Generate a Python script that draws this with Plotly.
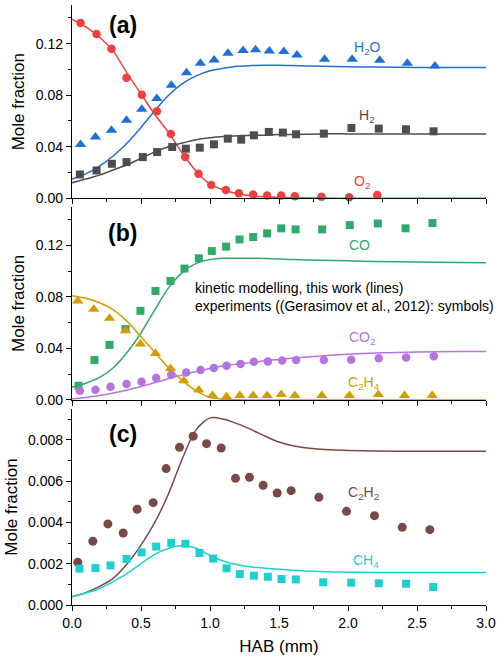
import plotly.graph_objects as go
from plotly.subplots import make_subplots

# ---------------- data ----------------
# model grid (HAB, mm)
hab_model = [0.0, 0.1, 0.2, 0.3, 0.4, 0.5, 0.6, 0.7, 0.8, 0.9, 1.0, 1.1, 1.2, 1.3,
             1.4, 1.5, 1.6, 1.8, 2.0, 2.2, 2.5, 2.8, 3.0]

# panel (a)
o2_model = [0.139, 0.133, 0.125, 0.114, 0.097, 0.081, 0.065, 0.051, 0.035, 0.021, 0.011,
            0.0065, 0.0035, 0.002, 0.0012, 0.0007, 0.0004, 0.0002, 0.0001, 0.0001, 0.0, 0.0, 0.0]
h2o_model = [0.015, 0.019, 0.025, 0.033, 0.043, 0.055, 0.068, 0.080, 0.089, 0.095, 0.099,
             0.101, 0.1025, 0.103, 0.1033, 0.1033, 0.103, 0.1025, 0.102, 0.1018, 0.1015, 0.1015, 0.1015]
h2_model = [0.012, 0.015, 0.018, 0.022, 0.026, 0.031, 0.036, 0.040, 0.043, 0.0455, 0.047,
            0.048, 0.0485, 0.049, 0.049, 0.0495, 0.0495, 0.050, 0.050, 0.050, 0.050, 0.050, 0.050]

o2_x = [0.062, 0.178, 0.286, 0.395, 0.506, 0.615, 0.716, 0.820, 0.917, 1.009, 1.115, 1.209,
        1.313, 1.414, 1.516, 1.615, 1.808, 2.009, 2.212]
o2_y = [0.136, 0.1275, 0.116, 0.0936, 0.0804, 0.0676, 0.050, 0.032, 0.019, 0.0104, 0.0065,
        0.0039, 0.0029, 0.0021, 0.0021, 0.0016, 0.0013, 0.0008, 0.0026]
h2o_x = [0.062, 0.17, 0.286, 0.395, 0.506, 0.615, 0.72, 0.83, 0.93, 1.03, 1.13, 1.24, 1.33,
         1.43, 1.535, 1.63, 1.83, 2.03, 2.23, 2.43, 2.63]
h2o_y = [0.0417, 0.0476, 0.0528, 0.0606, 0.0692, 0.0775, 0.0877, 0.0975, 0.1048, 0.1074,
         0.1126, 0.1147, 0.1152, 0.1144, 0.1139, 0.1113, 0.108, 0.108, 0.1072, 0.1048, 0.1027]
h2_x = [0.057, 0.178, 0.289, 0.395, 0.513, 0.617, 0.726, 0.825, 0.926, 1.028, 1.129, 1.226,
        1.318, 1.426, 1.528, 1.624, 1.825, 2.025, 2.223, 2.42, 2.62]
h2_y = [0.0185, 0.0216, 0.0268, 0.0281, 0.032, 0.0359, 0.0398, 0.0385, 0.0393, 0.0419, 0.0463,
        0.0455, 0.0489, 0.0515, 0.051, 0.0497, 0.0502, 0.0546, 0.0541, 0.0536, 0.052]

# panel (b)
co_model = [0.010, 0.013, 0.0175, 0.025, 0.037, 0.052, 0.070, 0.087, 0.099, 0.106, 0.109,
            0.110, 0.110, 0.110, 0.1098, 0.1095, 0.109, 0.1085, 0.108, 0.1075, 0.107, 0.1067, 0.1065]
co2_model = [0.001, 0.002, 0.0035, 0.0055, 0.0078, 0.0105, 0.0135, 0.0165, 0.0195, 0.022, 0.0245,
             0.0265, 0.028, 0.029, 0.0305, 0.0315, 0.0325, 0.0342, 0.0355, 0.0364, 0.0372, 0.0376, 0.0377]
c2h4_model = [0.081, 0.079, 0.0755, 0.070, 0.061, 0.049, 0.037, 0.025, 0.015, 0.007, 0.002,
              0.0005, 0.0001, 0.0, 0.0, 0.0, 0.0, 0.0, 0.0, 0.0, 0.0, 0.0, 0.0]

co_x = [0.047, 0.163, 0.272, 0.388, 0.496, 0.605, 0.714, 0.815, 0.919, 1.013, 1.117, 1.214,
        1.313, 1.414, 1.516, 1.62, 1.813, 2.013, 2.216, 2.417, 2.612]
co_y = [0.0111, 0.031, 0.0428, 0.055, 0.0692, 0.0846, 0.0924, 0.102, 0.110, 0.1156, 0.119,
        0.1246, 0.1265, 0.1293, 0.1332, 0.1324, 0.1324, 0.1357, 0.137, 0.1332, 0.1373]
c2h4_x = [0.042, 0.158, 0.272, 0.388, 0.496, 0.605, 0.714, 0.81, 0.919, 1.018, 1.12, 1.216,
          1.313, 1.414, 1.516, 1.615, 1.81, 2.01, 2.22, 2.41, 2.61]
c2h4_y = [0.0769, 0.0705, 0.0635, 0.0537, 0.0434, 0.0361, 0.0245, 0.015, 0.0077, 0.0034, 0.0026,
          0.0034, 0.0034, 0.0034, 0.0042, 0.0034, 0.0034, 0.0034, 0.0042, 0.0034, 0.0034]
co2_x = [0.057, 0.17, 0.279, 0.395, 0.504, 0.61, 0.719, 0.827, 0.931, 1.028, 1.12, 1.221,
         1.318, 1.419, 1.523, 1.624, 1.825, 2.023, 2.223, 2.421, 2.622]
co2_y = [0.0072, 0.008, 0.0103, 0.0124, 0.0142, 0.017, 0.0196, 0.0214, 0.0232, 0.0248, 0.0266,
         0.0279, 0.0297, 0.0299, 0.0307, 0.031, 0.031, 0.0312, 0.0323, 0.033, 0.034]

# panel (c)
c2h2_model = [0.0004, 0.0006, 0.0009, 0.0013, 0.0020, 0.0029, 0.0040, 0.0054, 0.0071, 0.0085,
              0.00907, 0.0090, 0.00878, 0.0085, 0.00818, 0.0079, 0.00772, 0.00755, 0.00749,
              0.00746, 0.00745, 0.00745, 0.00745]
ch4_model = [0.0004, 0.00058, 0.0008, 0.00113, 0.00153, 0.0020, 0.00245, 0.00275, 0.00288,
             0.00275, 0.0024, 0.00212, 0.00195, 0.00184, 0.00178, 0.00173, 0.00168, 0.00162,
             0.00159, 0.00158, 0.00158, 0.00158, 0.00158]

c2h2_x = [0.042, 0.151, 0.26, 0.371, 0.472, 0.588, 0.682, 0.779, 0.878, 0.975, 1.081, 1.185,
          1.286, 1.385, 1.487, 1.588, 1.789, 1.989, 2.192, 2.393, 2.593]
c2h2_y = [0.00207, 0.00309, 0.00393, 0.00349, 0.00464, 0.00496, 0.00661, 0.00764, 0.00818,
          0.00782, 0.00761, 0.00614, 0.00619, 0.00580, 0.00543, 0.00554, 0.00522, 0.00454,
          0.00433, 0.00377, 0.00365]
ch4_x = [0.054, 0.17, 0.279, 0.395, 0.504, 0.61, 0.719, 0.822, 0.924, 1.023, 1.12, 1.216,
         1.318, 1.419, 1.518, 1.622, 1.82, 2.023, 2.223, 2.421, 2.617]
ch4_y = [0.00176, 0.00179, 0.00192, 0.00223, 0.00255, 0.00283, 0.00301, 0.00297, 0.00252,
         0.00225, 0.00178, 0.00150, 0.00142, 0.00137, 0.00126, 0.00124, 0.00110, 0.00108,
         0.00105, 0.00103, 0.00087]

# ---------------- styles ----------------
C_O2 = "#EF4040"
C_H2O = "#1F6FDB"
C_H2 = "#4D4D4D"
C_CO = "#2EAA6B"
C_CO2 = "#B474E0"
C_C2H4 = "#D39C00"
C_C2H2 = "#7B4848"
C_CH4 = "#1ECFCF"
FONT = "Liberation Sans, Arial, sans-serif"

fig = make_subplots(rows=3, cols=1)


def add_line(x, y, color, row):
    fig.add_trace(go.Scatter(x=x, y=y, mode="lines", line=dict(color=color, width=1.5, shape="spline", smoothing=0.8),
                             showlegend=False, hoverinfo="skip"), row=row, col=1)


def add_pts(x, y, color, symbol, size, row):
    fig.add_trace(go.Scatter(x=x, y=y, mode="markers",
                             marker=dict(color=color, symbol=symbol, size=size, line=dict(width=0)),
                             showlegend=False, cliponaxis=False), row=row, col=1)


# panel a
add_line(hab_model, o2_model, C_O2, 1)
add_line(hab_model, h2o_model, C_H2O, 1)
add_line(hab_model, h2_model, C_H2, 1)
add_pts(h2_x, h2_y, C_H2, "square", 8, 1)
add_pts(h2o_x, h2o_y, C_H2O, "triangle-up", 10, 1)
add_pts(o2_x, o2_y, C_O2, "circle", 8.5, 1)

# panel b
add_line(hab_model, co_model, C_CO, 2)
add_line(hab_model, co2_model, C_CO2, 2)
add_line(hab_model, c2h4_model, C_C2H4, 2)
add_pts(co_x, co_y, C_CO, "square", 8, 2)
add_pts(co2_x, co2_y, C_CO2, "circle", 8.5, 2)
add_pts(c2h4_x, c2h4_y, C_C2H4, "triangle-up", 10, 2)

# panel c
add_line(hab_model, c2h2_model, C_C2H2, 3)
add_line(hab_model, ch4_model, C_CH4, 3)
add_pts(c2h2_x, c2h2_y, C_C2H2, "circle", 9, 3)
add_pts(ch4_x, ch4_y, C_CH4, "square", 8, 3)

# ---------------- axes ----------------
domains = [[0.6778, 1.0], [0.3417, 0.6638], [0.0, 0.3267]]
yranges = [[0, 0.15], [0, 0.15], [0, 0.0095]]
ydticks = [0.04, 0.04, 0.002]
yfmts = [".2f", ".2f", ".3f"]

for i in range(3):
    xa = "xaxis" if i == 0 else f"xaxis{i+1}"
    ya = "yaxis" if i == 0 else f"yaxis{i+1}"
    fig.layout[xa].update(
        range=[0, 3], dtick=0.5, tick0=0, showgrid=False, zeroline=False,
        showline=True, linecolor="black", linewidth=1.3,
        ticks="outside", ticklen=5, tickwidth=1.3, tickcolor="black",
        minor=dict(ticks="outside", ticklen=3, tickwidth=1, tickcolor="black", dtick=0.25, showgrid=False),
        showticklabels=(i == 2), tickformat=".1f",
        tickfont=dict(family=FONT, size=14, color="black"),
    )
    fig.layout[ya].update(
        domain=domains[i], range=yranges[i], dtick=ydticks[i], tick0=0, tickformat=yfmts[i],
        showgrid=False, zeroline=False, showline=True, linecolor="black", linewidth=1.3,
        ticks="outside", ticklen=5, tickwidth=1.3, tickcolor="black",
        minor=dict(ticks="outside", ticklen=3, tickwidth=1, tickcolor="black",
                   dtick=ydticks[i] / 2, showgrid=False),
        tickfont=dict(family=FONT, size=14, color="black"),
        title=dict(text="Mole fraction", font=dict(family=FONT, size=17, color="black"), standoff=6),
    )

fig.layout.xaxis3.title = dict(text="HAB (mm)", font=dict(family=FONT, size=17, color="black"), standoff=10)

# ---------------- annotations ----------------
def label(text, x, y, color, row, size=14, bold=False, xanchor="center"):
    xr = "x" if row == 1 else f"x{row}"
    yr = "y" if row == 1 else f"y{row}"
    fig.add_annotation(text=text, x=x, y=y, xref=xr, yref=yr, showarrow=False,
                       xanchor=xanchor, yanchor="middle",
                       font=dict(family=FONT, size=size, color=color), align="left")

label("<b>(a)</b>", 0.367, 0.1345, "black", 1, size=23)
label("<b>(b)</b>", 0.367, 0.1295, "black", 2, size=23)
label("<b>(c)</b>", 0.367, 0.0083, "black", 3, size=23)

label("H<sub>2</sub>O", 2.14, 0.117, C_H2O, 1)
label("H<sub>2</sub>", 2.14, 0.0637, C_H2, 1)
label("O<sub>2</sub>", 2.1, 0.0124, C_O2, 1)

label("CO", 2.085, 0.1203, C_CO, 2)
label("CO<sub>2</sub>", 2.1, 0.048, C_CO2, 2)
label("C<sub>2</sub>H<sub>4</sub>", 2.115, 0.0128, C_C2H4, 2)
label("kinetic modelling, this work (lines)<br>experiments ((Gerasimov et al., 2012): symbols)",
      0.88, 0.0798, "black", 2, xanchor="left")

label("C<sub>2</sub>H<sub>2</sub>", 2.115, 0.00543, C_C2H2, 3)
label("CH<sub>4</sub>", 2.127, 0.00214, C_CH4, 3)

fig.update_layout(
    width=500, height=664,
    margin=dict(l=72, r=14, t=5, b=59),
    paper_bgcolor="white", plot_bgcolor="white",
    font=dict(family=FONT, size=14, color="black"),
    showlegend=False,
)

fig.write_html("out.html")
